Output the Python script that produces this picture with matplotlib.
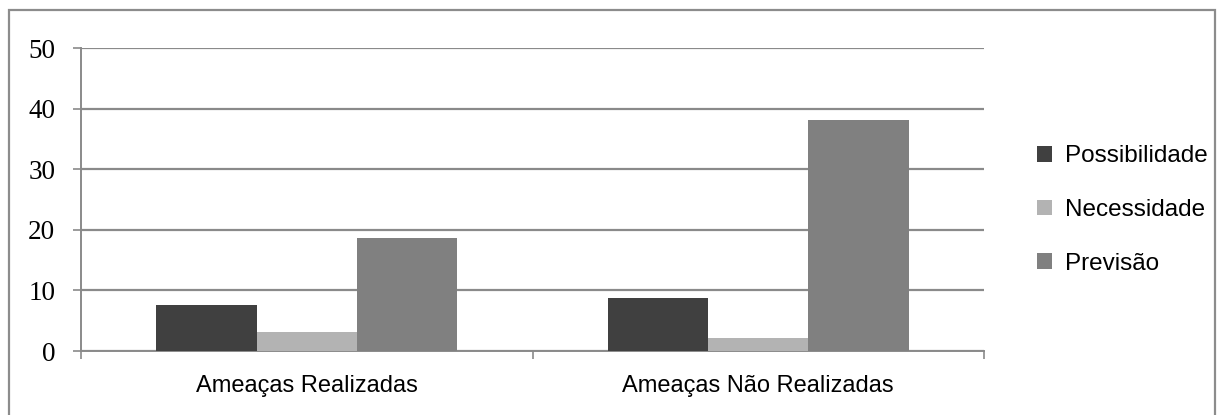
import matplotlib
matplotlib.use("Agg")
import matplotlib.pyplot as plt
import numpy as np
from matplotlib.patches import Rectangle

categories = ["Ameaças Realizadas", "Ameaças Não Realizadas"]
series_names = ["Possibilidade", "Necessidade", "Previsão"]
possibilidade = [7.6, 8.7]
necessidade = [3.1, 2.1]
previsao = [18.7, 38.2]
yticks = [0, 10, 20, 30, 40, 50]

colors = ["#404040", "#b3b3b3", "#808080"]
W, H = 1220, 415
fig = plt.figure(figsize=(W / 100, H / 100), dpi=100)
ax = fig.add_axes([81 / W, 1 - 351 / H, (984 - 81) / W, (351 - 48) / H])

x = np.arange(len(categories))
bw = 1 / 4.5
series = [possibilidade, necessidade, previsao]
for i, (name, vals, c) in enumerate(zip(series_names, series, colors)):
    ax.bar(x + (i - 1) * bw, vals, width=bw, color=c, label=name, zorder=3)

grid_c = "#8a8a8a"
ax.set_xlim(-0.5, len(categories) - 0.5)
ax.set_ylim(0, 50)
ax.set_yticks(yticks)
ax.set_yticklabels([str(t) for t in yticks], family="Liberation Serif", fontsize=19.5, color="#000000")
ax.yaxis.grid(True, color=grid_c, linewidth=1.6, zorder=1)
ax.set_axisbelow(True)
ax.tick_params(axis="y", length=6, width=1.2, color=grid_c, pad=12.5)

ax.set_xticks(x)
ax.set_xticklabels(categories, family="Liberation Sans", fontsize=17, color="#000000")
ax.set_xticks(np.arange(-0.5, len(categories)), minor=True)
ax.tick_params(axis="x", which="major", length=0, pad=17)
ax.tick_params(axis="x", which="minor", length=5.5, width=1.2, color=grid_c)

for s in ["top", "right"]:
    ax.spines[s].set_visible(False)
for s in ["left", "bottom"]:
    ax.spines[s].set_color(grid_c)
    ax.spines[s].set_linewidth(1.4)

leg = fig.legend(loc="center left", bbox_to_anchor=(1037 / W, 1 - 210 / H),
                 frameon=False, prop={"family": "Liberation Sans", "size": 17.5},
                 handlelength=0.6, handleheight=0.6, handletextpad=0.55,
                 labelspacing=1.3, borderpad=0, borderaxespad=0)

frame = Rectangle((8.5 / W, -0.1), (1215 - 8.5) / W, 1.1 - 10.5 / H,
                  transform=fig.transFigure, fill=False, edgecolor="#8c8c8c",
                  linewidth=1.6, clip_on=False)
fig.patches.append(frame)

fig.savefig("out.png", dpi=100)
